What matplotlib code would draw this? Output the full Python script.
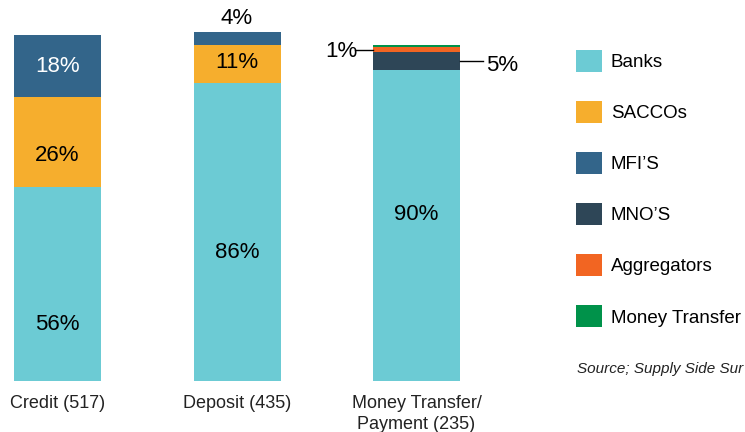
#!/usr/bin/env python3
import matplotlib
matplotlib.use("Agg")
import matplotlib.pyplot as plt  # pylint: disable=import-error
from matplotlib.patches import Patch
import numpy as np

# data
categories = ["Credit (517)", "Deposit (435)", "Money Transfer/\nPayment (235)"]
providers = ["Banks", "SACCOs", "MFI\u2019S", "MNO\u2019S", "Aggregators", "Money Transfer"]
shares = {
    "Banks": [56, 86, 90],
    "SACCOs": [26, 11, 0],
    "MFI\u2019S": [18, 4, 0],
    "MNO\u2019S": [0, 0, 5],
    "Aggregators": [0, 0, 1.5],
    "Money Transfer": [0, 0, 0.5],
}
colors = ["#6ccbd4", "#f6ae2d", "#33658a", "#2e4657", "#f26522", "#00924a"]
source = "Source; Supply Side Sur"

W, H = 745, 432
fig = plt.figure(figsize=(W / 100, H / 100), dpi=100)
plt.rcParams["font.family"] = ["Liberation Sans", "DejaVu Sans"]

# axes: y=0 at px 381, 100% = 346 px
ax = fig.add_axes([0, (H - 381) / H, 560 / W, 381 / H])
px_per_unit = 179.5
x0 = -57.5 / px_per_unit
ax.set_xlim(x0, x0 + 560 / px_per_unit)
ax.set_ylim(0, 381 / 3.46)

x = np.arange(len(categories))
bw = 87 / px_per_unit
bottom = np.zeros(len(categories))
for name, col in zip(providers, colors):
    vals = np.array(shares[name], dtype=float)
    ax.bar(x, vals, width=bw, bottom=bottom, color=col, linewidth=0)
    bottom += vals

fs = 16
# in-bar labels (bar index, y position, text, colour)
labels = [
    (0, 16.2, "56%", "black"),
    (0, 65.3, "26%", "black"),
    (0, 91.0, "18%", "white"),
    (1, 37.0, "86%", "black"),
    (1, 92.0, "11%", "black"),
    (1, 104.9, "4%", "black"),
    (2, 48.0, "90%", "black"),
]
for i, y, t, c in labels:
    ax.text(x[i], y, t, ha="center", va="center", fontsize=fs, color=c)

# call-outs on the Money Transfer bar
b = shares["Banks"][2]
mno = shares["MNO\u2019S"][2]
agg = shares["Aggregators"][2]
y_agg = b + mno + agg / 2
y_mno = b + mno / 2
left, right = x[2] - bw / 2, x[2] + bw / 2
ax.plot([left - 0.10, left], [y_agg, y_agg], color="black", lw=1)
ax.text(left - 0.175, y_agg - 0.6, "1%", ha="center", va="center", fontsize=fs)
ax.plot([right, right + 0.13], [y_mno, y_mno], color="black", lw=1)
ax.text(right + 0.235, y_mno - 1.2, "5%", ha="center", va="center", fontsize=fs)

ax.set_xticks(x)
ax.set_xticklabels(categories, fontsize=13, color="#222222", linespacing=1.3)
ax.tick_params(axis="x", length=0, pad=10)
ax.set_yticks([])
for s in ax.spines.values():
    s.set_visible(False)

handles = [Patch(facecolor=c, edgecolor="none", label=p) for p, c in zip(providers, colors)]
fig.legend(handles=handles, loc="upper left", bbox_to_anchor=(576 / W, 1 - 50 / H),
           frameon=False, fontsize=13.5, handlelength=1.4, handleheight=1.4,
           labelspacing=1.57, handletextpad=0.45, borderpad=0, borderaxespad=0)

fig.text(577 / W, 1 - 369 / H, source, fontsize=11, style="italic", color="#222222",
         ha="left", va="center")

fig.savefig("out.png", dpi=100)
